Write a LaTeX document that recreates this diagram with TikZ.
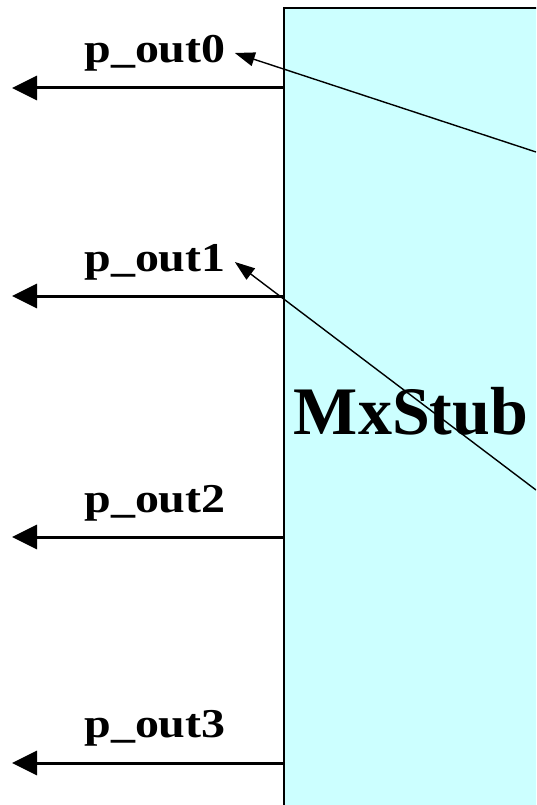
\documentclass[tikz,border=0pt]{standalone}
\usepackage{fontspec}
\setmainfont{Liberation Serif}
\newfontfamily\wideserif[FakeStretch=1.17]{Liberation Serif}
\usetikzlibrary{positioning,arrows.meta}
\definecolor{stubcyan}{HTML}{CCFFFF}

\begin{document}
\begin{tikzpicture}[x=1pt,y=-1pt,>=Triangle]
\tikzset{
  stub/.style={draw=black,fill=stubcyan,line width=2pt,minimum width=254pt,minimum height=806pt,inner sep=0pt,
    font=\fontsize{68}{68}\selectfont\bfseries},
  port/.style={inner xsep=9pt,inner ysep=0pt,font=\wideserif\fontsize{41}{41}\selectfont\bfseries},
  outarr/.style={-{Triangle[length=25pt,width=24pt]},line width=3pt},
  refarr/.style={-{Triangle[length=20pt,width=14pt]},line width=1.4pt}
}
\useasboundingbox (0,0) rectangle (536,805);
\clip (0,0) rectangle (536,805);

% the block
\node[stub] (stub) at (411,411) {MxStub};

% output ports
\coordinate (out0) at (12,88);
\coordinate (out1) at (12,296);
\coordinate (out2) at (12,537);
\coordinate (out3) at (12,763);
\draw[outarr] (stub.west |- out0) -- (out0);
\draw[outarr] (stub.west |- out1) -- (out1);
\draw[outarr] (stub.west |- out2) -- (out2);
\draw[outarr] (stub.west |- out3) -- (out3);

\node[port] (lab0) at (155,53) {p\_out0};
\node[port] (lab1) at (155,262) {p\_out1};
\node[port] (lab2) at (155,503) {p\_out2};
\node[port] (lab3) at (155,728) {p\_out3};

% references coming in from the right
\coordinate (src0) at (536,152);
\coordinate (src1) at (536,490);
\draw[refarr] (src0) -- (lab0.east);
\draw[refarr] (src1) -- (lab1.east);
\end{tikzpicture}
\end{document}
